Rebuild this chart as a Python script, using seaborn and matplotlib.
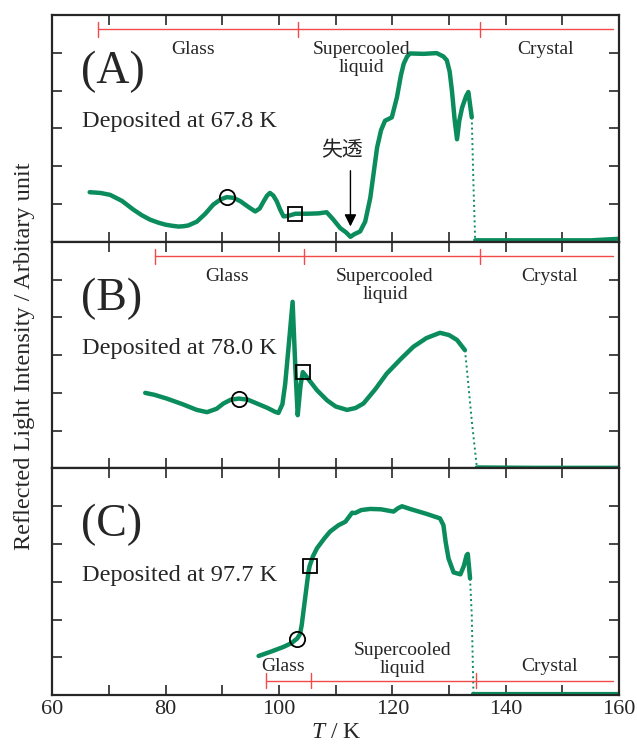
import numpy as np
import pandas as pd
import matplotlib
matplotlib.use("Agg")
import matplotlib.pyplot as plt
import seaborn as sns

# panel A, deposited at 67.8 K
TA = [66.6, 68.5, 70.2, 72.3, 74.3, 75.8, 77.3, 78.8, 80.0, 81.2, 82.3, 83.2, 84.0, 85.5,
      87.0, 88.4, 89.7, 90.8, 92.0, 93.2, 94.6, 95.8, 96.6, 97.3, 97.9, 98.4, 99.0, 99.6,
      100.2, 100.8, 101.5, 102.0, 102.9, 105.0, 107.0, 108.4, 109.5, 110.8, 111.8, 112.6,
      113.3, 114.3, 115.2, 116.1, 117.3, 118.0, 118.7, 119.9, 120.8, 121.5, 122.0, 122.6,
      123.1, 125.5, 127.8, 129.0, 129.6, 130.1, 130.5, 131.0, 131.4, 131.8, 132.3, 133.0,
      133.4, 134.0]
IA = [1.31, 1.29, 1.24, 1.08, 0.85, 0.70, 0.58, 0.50, 0.45, 0.42, 0.40, 0.41, 0.43, 0.53,
      0.74, 0.98, 1.12, 1.18, 1.16, 1.07, 0.92, 0.80, 0.88, 1.07, 1.22, 1.29, 1.22, 1.07,
      0.85, 0.67, 0.68, 0.70, 0.74, 0.74, 0.75, 0.78, 0.60, 0.36, 0.25, 0.13,
      0.20, 0.27, 0.53, 1.16, 2.49, 2.95, 3.20, 3.29, 3.82, 4.40, 4.71, 4.90,
      4.98, 4.97, 4.99, 4.90, 4.80, 4.50, 4.00, 3.20, 2.71, 3.20, 3.55, 3.85,
      3.96, 3.29]
TA_drop = [134.0, 134.3, 134.6]
IA_drop = [3.29, 1.50, 0.04]
TA_tail = [134.6, 145.0, 155.0, 160.0]
IA_tail = [0.04, 0.04, 0.04, 0.08]

# panel B, deposited at 78.0 K
TB = [76.4, 78.0, 80.2, 83.0, 85.5, 87.3, 89.0, 90.2, 91.5, 92.9, 94.5, 96.1, 98.0, 99.3,
      99.9, 100.6, 101.1, 101.8, 102.4, 102.9, 103.3, 103.8, 104.2, 105.0, 106.7, 108.5,
      110.0, 112.0, 113.5, 114.9, 117.0, 119.0, 121.5, 123.7, 126.0, 128.4, 130.0, 131.4,
      132.8]
IB = [2.00, 1.95, 1.85, 1.70, 1.55, 1.49, 1.58, 1.72, 1.82, 1.85, 1.82, 1.72, 1.60, 1.50,
      1.47, 1.70, 2.25, 3.40, 4.41, 2.60, 1.41, 2.20, 2.55, 2.40, 2.07, 1.80,
      1.64, 1.55, 1.60, 1.72, 2.10, 2.51, 2.90, 3.22, 3.45, 3.59, 3.53, 3.40,
      3.13]
TB_drop = [132.8, 133.1, 134.0, 134.9]
IB_drop = [3.13, 2.69, 1.27, 0.03]
TB_tail = [134.9, 145.0, 155.0, 160.0]
IB_tail = [0.03, 0.02, 0.02, 0.02]

# panel C, deposited at 97.7 K
TC = [96.4, 98.5, 100.8, 102.2, 103.2, 103.7, 104.0, 104.6, 105.2, 105.4, 106.0, 106.7,
      108.0, 109.0, 110.5, 111.7, 112.9, 113.4, 114.5, 116.1, 118.0, 120.2, 121.0, 121.7,
      123.1, 126.0, 128.4, 129.0, 129.4, 129.9, 130.8, 132.0, 132.6, 133.1, 133.3, 133.7]
IC = [1.04, 1.15, 1.28, 1.38, 1.50, 1.62, 1.85, 2.56, 3.27, 3.42, 3.68, 3.89,
      4.15, 4.33, 4.50, 4.59, 4.83, 4.82, 4.90, 4.93, 4.92, 4.86, 4.95, 5.00,
      4.93, 4.80, 4.68, 4.50, 4.05, 3.62, 3.25, 3.20, 3.42, 3.71, 3.74, 3.09]
TC_drop = [133.7, 134.0, 134.3]
IC_drop = [3.09, 2.12, 0.04]
TC_tail = [134.3, 145.0, 155.0, 160.0]
IC_tail = [0.03, 0.03, 0.03, 0.03]

panels = ["(A)", "(B)", "(C)"]
deposited = ["Deposited at 67.8 K", "Deposited at 78.0 K", "Deposited at 97.7 K"]
circles = [(90.8, 1.18), (92.9, 1.85), (103.2, 1.50)]
squares = [(102.9, 0.74), (104.2, 2.55), (105.4, 3.42)]
# phase boundaries (start, glass->liquid, crystallisation, end)
bounds = [[68.1, 103.3, 135.5, 159.0], [78.2, 104.4, 135.5, 159.0], [97.7, 105.6, 134.7, 159.0]]
bar_y = [5.62, 5.62, 0.38]
glass_x = [84.9, 90.8, 100.8]
sc_x = [114.6, 118.7, 121.8]
crys_x = [147.0, 147.8, 147.8]
label_y = [5.09, 5.09, 0.75]
sc_y = [4.85, 4.85, 0.95]

curves = [
    (TA, IA, TA_drop, IA_drop, TA_tail, IA_tail),
    (TB, IB, TB_drop, IB_drop, TB_tail, IB_tail),
    (TC, IC, TC_drop, IC_drop, TC_tail, IC_tail),
]

sns.set_style("ticks")
plt.rcParams["font.family"] = ["Liberation Serif", "Noto Sans CJK JP"]
plt.rcParams["mathtext.fontset"] = "custom"
plt.rcParams["mathtext.rm"] = "Liberation Serif"
plt.rcParams["mathtext.it"] = "Liberation Serif:italic"

green = "#0a8c5c"
red = "#f24a4a"

fig, axes = plt.subplots(3, 1, figsize=(6.37, 7.46), dpi=100, sharex=True)
fig.subplots_adjust(left=0.082, right=0.972, top=0.980, bottom=0.068, hspace=0)

for i, ax in enumerate(axes):
    T, I, Td, Id, Tt, It = curves[i]
    sns.lineplot(x=T, y=I, ax=ax, color=green, lw=3.2, sort=False)
    sns.lineplot(x=Td, y=Id, ax=ax, color=green, lw=1.4, ls=":", sort=False)
    sns.lineplot(x=Tt, y=It, ax=ax, color=green, lw=3.0, sort=False)

    ax.plot(*circles[i], marker="o", ms=11, mfc="none", mec="black", mew=1.3)
    ax.plot(*squares[i], marker="s", ms=10, mfc="none", mec="black", mew=1.3)

    b = bounds[i]
    ax.plot([b[0], b[3]], [bar_y[i]] * 2, color=red, lw=1.0)
    for xb in b[:3]:
        ax.plot([xb, xb], [bar_y[i] - 0.2, bar_y[i] + 0.2], color=red, lw=1.0)

    ax.text(glass_x[i], label_y[i], "Glass", ha="center", va="center", fontsize=14)
    ax.text(sc_x[i], sc_y[i], "Supercooled\nliquid", ha="center", va="center",
            fontsize=14, linespacing=1.1)
    ax.text(crys_x[i], label_y[i], "Crystal", ha="center", va="center", fontsize=14)

    ax.text(65.0, 4.5, panels[i], ha="left", va="center", fontsize=33)
    ax.text(65.2, 3.18, deposited[i], ha="left", va="center", fontsize=17.5)

    ax.set_xlim(60, 160)
    ax.set_ylim(0, 6)
    ax.set_xticks(np.arange(60, 161, 10))
    ax.set_xticklabels([str(t) if t % 20 == 0 else "" for t in range(60, 161, 10)])
    ax.set_yticks([1, 2, 3, 4, 5])
    ax.set_yticklabels([])
    ax.tick_params(direction="in", length=7, width=1.2, top=True, right=True,
                   labelsize=16)
    for s in ax.spines.values():
        s.set_linewidth(1.6)
        s.set_visible(True)
    ax.set_xlabel("")
    ax.set_ylabel("")

axes[0].annotate("", xy=(112.6, 0.33), xytext=(112.6, 1.95),
                 arrowprops=dict(arrowstyle="-|>", color="black", lw=1.0,
                                 mutation_scale=18))
axes[0].text(111.1, 2.42, "失透", ha="center", va="center", fontsize=15,
             family=["Noto Sans CJK JP", "DejaVu Sans"])

axes[2].set_xlabel("$T$ / K", fontsize=17, labelpad=2)
fig.text(0.039, 0.522, "Reflected Light Intensity / Arbitary unit", rotation=90,
         ha="center", va="center", fontsize=17.5)

fig.savefig("out.png", dpi=100)
